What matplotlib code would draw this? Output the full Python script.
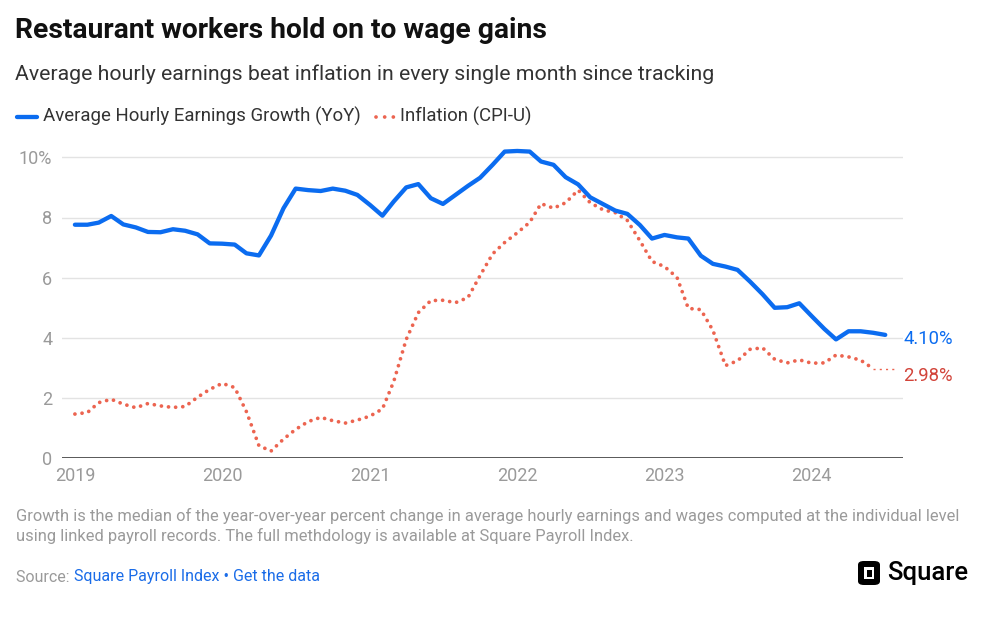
import numpy as np
import pandas as pd
import matplotlib
matplotlib.use("Agg")
import matplotlib.pyplot as plt
from matplotlib.patches import FancyBboxPatch, Rectangle

plt.rcParams["font.family"] = ["Roboto", "DejaVu Sans"]

# ── Data ───────────────────────────────────────────────────────────────
wage_growth = [
    7.76, 7.76, 7.83, 8.05, 7.77, 7.67, 7.52, 7.51, 7.61, 7.56, 7.44, 7.14,   # 2019
    7.13, 7.10, 6.81, 6.74, 7.40, 8.31, 8.96, 8.91, 8.88, 8.96, 8.89, 8.75,   # 2020
    8.42, 8.06, 8.53, 9.00, 9.11, 8.64, 8.45, 8.75, 9.05, 9.32, 9.75, 10.19,  # 2021
    10.21, 10.19, 9.86, 9.75, 9.34, 9.10, 8.67, 8.45, 8.23, 8.12, 7.75, 7.30, # 2022
    7.42, 7.34, 7.30, 6.73, 6.46, 6.37, 6.26, 5.87, 5.45, 5.00, 5.02, 5.15,   # 2023
    4.72, 4.30, 3.95, 4.22, 4.22, 4.17, 4.10,                                 # 2024
]
inflation = [
    1.47, 1.52, 1.85, 1.96, 1.80, 1.68, 1.82, 1.74, 1.69, 1.72, 2.03, 2.29,   # 2019
    2.49, 2.35, 1.55, 0.42, 0.24, 0.64, 0.96, 1.22, 1.36, 1.25, 1.17, 1.27,   # 2020
    1.40, 1.64, 2.55, 3.95, 4.84, 5.24, 5.25, 5.17, 5.34, 6.07, 6.79, 7.17,   # 2021
    7.49, 7.84, 8.46, 8.31, 8.49, 8.91, 8.49, 8.26, 8.16, 7.90, 7.23, 6.54,   # 2022
    6.37, 6.01, 4.98, 4.94, 4.25, 3.08, 3.24, 3.62, 3.67, 3.29, 3.17, 3.27,   # 2023
    3.16, 3.17, 3.43, 3.37, 3.26, 2.98,                                       # 2024
]
wage_dates = pd.date_range("2019-01-01", periods=len(wage_growth), freq="MS")
infl_dates = pd.date_range("2019-01-01", periods=len(inflation), freq="MS")

years = [2019, 2020, 2021, 2022, 2023, 2024]
y_ticks = [0, 2, 4, 6, 8, 10]
y_labels = ["0", "2", "4", "6", "8", "10%"]

BLUE = "#0B6CF0"
RED = "#EC6450"
RED_TXT = "#D2443A"
GREY = "#9A9A9A"
DARK = "#2B2B2B"
DOTS = (0, (0.01, 1.9))

W, H = 992, 629
fig = plt.figure(figsize=(W / 100, H / 100), dpi=100)
fig.patch.set_facecolor("white")

def fx(px):
    return px / W

def fy(py):
    return 1 - py / H

# ── Plot area ─────────────────────────────────────────────────────────
y0_px, px_per_unit = 458.3, 30.1
ytop = 10.3
ax = fig.add_axes([fx(62), fy(y0_px), fx(903) - fx(62), ytop * px_per_unit / H])
ax.set_facecolor("white")

for t in y_ticks[1:]:
    ax.axhline(t, color="#E3E3E3", linewidth=1.0, zorder=1)
ax.axhline(0, color=DARK, linewidth=1.1, zorder=4)

ax.plot(wage_dates, wage_growth, color=BLUE, linewidth=3.1,
        solid_joinstyle="round", solid_capstyle="round", zorder=5, clip_on=False)
ax.plot(infl_dates, inflation, color=RED, linewidth=2.7,
        linestyle=DOTS, dash_capstyle="round", zorder=4, clip_on=False)

# thin connector from last inflation point to its label
x_end = pd.Timestamp("2024-07-30")
ax.plot([infl_dates[-1], x_end], [inflation[-1], inflation[-1]], color=RED,
        linewidth=1.0, linestyle=(0, (1.5, 3)), zorder=3, clip_on=False)

ax.set_xlim(pd.Timestamp("2018-11-30"), pd.Timestamp("2024-08-14"))
ax.set_ylim(0, ytop)
for s in ax.spines.values():
    s.set_visible(False)

ax.set_yticks(y_ticks)
ax.set_yticklabels(y_labels)
ax.set_xticks([pd.Timestamp(f"{y}-01-01") for y in years])
ax.set_xticklabels([str(y) for y in years])
ax.tick_params(axis="both", length=0, labelsize=13, colors=GREY)
ax.tick_params(axis="y", pad=7)
ax.tick_params(axis="x", pad=6)

# end labels, both start at the right edge of the plot area
ax.annotate(f"{wage_growth[-1]:.2f}%", xy=(1.0, wage_growth[-1]),
            xycoords=("axes fraction", "data"),
            xytext=(0, -3), textcoords="offset points", va="center", ha="left",
            color=BLUE, fontsize=13.3, annotation_clip=False)
ax.annotate(f"{inflation[-1]:.2f}%", xy=(1.0, inflation[-1]),
            xycoords=("axes fraction", "data"),
            xytext=(0, -5), textcoords="offset points", va="center", ha="left",
            color=RED_TXT, fontsize=13.3, annotation_clip=False)

# ── Titles & legend ───────────────────────────────────────────────────
fig.text(fx(15), fy(30), "Restaurant workers hold on to wage gains",
         fontsize=20.3, fontweight="bold", color="#111111", va="center", ha="left")
fig.text(fx(15), fy(74), "Average hourly earnings beat inflation in every single month since tracking",
         fontsize=15.3, color="#333333", va="center", ha="left")

fig.add_artist(plt.Line2D([fx(17), fx(37)], [fy(117), fy(117)], color=BLUE,
                          linewidth=3.1, solid_capstyle="round"))
fig.text(fx(43), fy(116), "Average Hourly Earnings Growth (YoY)",
         fontsize=13.4, color="#333333", va="center", ha="left")
fig.add_artist(plt.Line2D([fx(376), fx(394)], [fy(117), fy(117)], color=RED,
                          linewidth=2.7, linestyle=(0, (0.01, 2.3)), dash_capstyle="round"))
fig.text(fx(400), fy(116), "Inflation (CPI-U)",
         fontsize=13.4, color="#333333", va="center", ha="left")

# ── Footer ────────────────────────────────────────────────────────────
fig.text(fx(16), fy(516), "Growth is the median of the year-over-year percent change in average hourly "
         "earnings and wages computed at the individual level",
         fontsize=11.9, color=GREY, va="center", ha="left")
fig.text(fx(16), fy(536), "using linked payroll records. The full methdology is available at Square Payroll Index.",
         fontsize=11.9, color=GREY, va="center", ha="left")
src = fig.text(fx(16), fy(577), "Source: ", fontsize=11.5, color=GREY, va="center", ha="left")
fig.canvas.draw()
bb = src.get_window_extent()
fig.text(bb.x1 / W, fy(577), "Square Payroll Index \u2022 Get the data",
         fontsize=11.5, color="#1A6CE8", va="center", ha="left")

# Square logo
fig.add_artist(FancyBboxPatch((fx(858), fy(585)), fx(880) - fx(858), fy(561) - fy(585),
                              boxstyle="round,pad=0,rounding_size=0.006",
                              facecolor="black", edgecolor="none",
                              transform=fig.transFigure))
fig.add_artist(Rectangle((fx(864), fy(579)), fx(874) - fx(864), fy(567) - fy(579),
                         facecolor="white", edgecolor="none", transform=fig.transFigure))
fig.add_artist(Rectangle((fx(866.5), fy(576.5)), fx(871.5) - fx(866.5), fy(569.5) - fy(576.5),
                         facecolor="black", edgecolor="none", transform=fig.transFigure))
fig.text(fx(887), fy(573), "Square", fontsize=18.5, fontweight="medium", color="black",
         va="center", ha="left")

fig.savefig("out.png", dpi=100, facecolor="white")
